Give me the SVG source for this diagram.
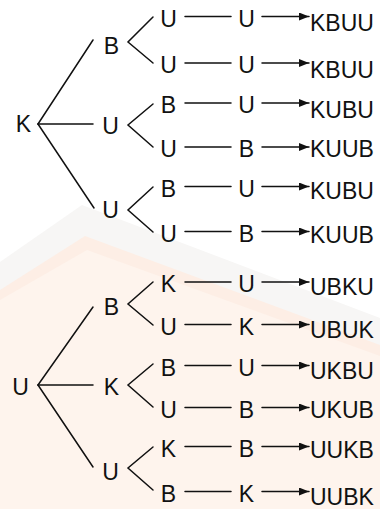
<svg xmlns="http://www.w3.org/2000/svg" width="380" height="509" viewBox="0 0 380 509">
  <defs>
    <style>
      text { font-family: "Liberation Sans", Arial, sans-serif; font-size: 23px; fill: #111; }
      .lbl { text-anchor: middle; }
      .res { text-anchor: start; }
      .ln { stroke: #111; stroke-width: 1.5; fill: none; stroke-linecap: round; }
    </style>
    <marker id="head" viewBox="0 0 10 8" refX="10" refY="4" markerWidth="10" markerHeight="8" markerUnits="userSpaceOnUse" orient="auto">
      <path d="M0,0 L10,4 L0,8 Z" fill="#111"/>
    </marker>
  </defs>

  <rect width="380" height="509" fill="#ffffff"/>

  <!-- faint background emblem -->
  <g id="emblem">
    <path d="M0,262 L82,205 L380,318 L380,509 L0,509 Z" fill="#f7f6f5"/>
    <path d="M0,290 L85,236 L380,345 L380,509 L0,509 Z" fill="#fdeee5"/>
    <path d="M0,300 L87,250 L380,356 L380,509 L0,509 Z" fill="#fef4ed"/>
  </g>

  <!-- connectors -->
  <g id="connectors">
    <!-- first tree -->
    <line class="ln" x1="38" y1="124" x2="93" y2="40"/>
    <line class="ln" x1="38" y1="124" x2="93" y2="124"/>
    <line class="ln" x1="38" y1="124" x2="94" y2="208"/>
    <polyline class="ln" points="153,17 128,42 153,63"/>
    <polyline class="ln" points="153,104 128,125 153,147"/>
    <polyline class="ln" points="153,187 128,210 153,232"/>
    <!-- second tree -->
    <line class="ln" x1="38" y1="385" x2="93" y2="307"/>
    <line class="ln" x1="38" y1="385" x2="93" y2="385"/>
    <line class="ln" x1="38" y1="385" x2="93" y2="467"/>
    <polyline class="ln" points="153,282 128,304 153,325"/>
    <polyline class="ln" points="153,364 128,385 153,407"/>
    <polyline class="ln" points="153,447 128,468 153,490"/>
    <!-- third-level dashes -->
    <line class="ln" x1="185" y1="16.5" x2="231" y2="16.5"/>
    <line class="ln" x1="185" y1="63" x2="231" y2="63"/>
    <line class="ln" x1="185" y1="103" x2="231" y2="103"/>
    <line class="ln" x1="185" y1="147" x2="231" y2="147"/>
    <line class="ln" x1="185" y1="186.5" x2="231" y2="186.5"/>
    <line class="ln" x1="185" y1="231.5" x2="231" y2="231.5"/>
    <line class="ln" x1="185" y1="282" x2="231" y2="282"/>
    <line class="ln" x1="185" y1="324.5" x2="231" y2="324.5"/>
    <line class="ln" x1="185" y1="365.5" x2="231" y2="365.5"/>
    <line class="ln" x1="185" y1="407.5" x2="231" y2="407.5"/>
    <line class="ln" x1="185" y1="446.5" x2="231" y2="446.5"/>
    <line class="ln" x1="185" y1="491.5" x2="231" y2="491.5"/>
    <!-- result arrows -->
    <line class="ln" x1="262" y1="16.5" x2="309" y2="16.5" marker-end="url(#head)"/>
    <line class="ln" x1="262" y1="63" x2="309" y2="63" marker-end="url(#head)"/>
    <line class="ln" x1="262" y1="103" x2="309" y2="103" marker-end="url(#head)"/>
    <line class="ln" x1="262" y1="147" x2="309" y2="147" marker-end="url(#head)"/>
    <line class="ln" x1="262" y1="186.5" x2="309" y2="186.5" marker-end="url(#head)"/>
    <line class="ln" x1="262" y1="231.5" x2="309" y2="231.5" marker-end="url(#head)"/>
    <line class="ln" x1="262" y1="282" x2="309" y2="282" marker-end="url(#head)"/>
    <line class="ln" x1="262" y1="324.5" x2="309" y2="324.5" marker-end="url(#head)"/>
    <line class="ln" x1="262" y1="365.5" x2="309" y2="365.5" marker-end="url(#head)"/>
    <line class="ln" x1="262" y1="407.5" x2="309" y2="407.5" marker-end="url(#head)"/>
    <line class="ln" x1="262" y1="446.5" x2="309" y2="446.5" marker-end="url(#head)"/>
    <line class="ln" x1="262" y1="491.5" x2="309" y2="491.5" marker-end="url(#head)"/>
  </g>

  <!-- first tree nodes -->
  <g id="k0"><text class="lbl" x="23.5" y="132">K</text></g>
  <g id="k-b"><text class="lbl" x="111.5" y="53.5">B</text></g>
  <g id="k-u1"><text class="lbl" x="110.5" y="134">U</text></g>
  <g id="k-u2"><text class="lbl" x="110.5" y="218">U</text></g>

  <g id="k-b-u1"><text class="lbl" x="168.5" y="26.5">U</text></g>
  <g id="k-b-u2"><text class="lbl" x="168.5" y="73">U</text></g>
  <g id="k-u1-b"><text class="lbl" x="168.5" y="113">B</text></g>
  <g id="k-u1-u"><text class="lbl" x="168.5" y="157">U</text></g>
  <g id="k-u2-b"><text class="lbl" x="168.5" y="196.5">B</text></g>
  <g id="k-u2-u"><text class="lbl" x="168.5" y="241.5">U</text></g>

  <g id="k-b-u1-u"><text class="lbl" x="246.5" y="26.5">U</text></g>
  <g id="k-b-u2-u"><text class="lbl" x="246.5" y="73">U</text></g>
  <g id="k-u1-b-u"><text class="lbl" x="246.5" y="113">U</text></g>
  <g id="k-u1-u-b"><text class="lbl" x="246.5" y="157">B</text></g>
  <g id="k-u2-b-u"><text class="lbl" x="246.5" y="196.5">U</text></g>
  <g id="k-u2-u-b"><text class="lbl" x="246.5" y="241.5">B</text></g>

  <g id="r1"><text class="res" x="310" y="31">KBUU</text></g>
  <g id="r2"><text class="res" x="310" y="77.5">KBUU</text></g>
  <g id="r3"><text class="res" x="310" y="117.5">KUBU</text></g>
  <g id="r4"><text class="res" x="310" y="157">KUUB</text></g>
  <g id="r5"><text class="res" x="310" y="199">KUBU</text></g>
  <g id="r6"><text class="res" x="310" y="242.5">KUUB</text></g>

  <!-- second tree nodes -->
  <g id="u0"><text class="lbl" x="20.5" y="395">U</text></g>
  <g id="u-b"><text class="lbl" x="111.5" y="315">B</text></g>
  <g id="u-k"><text class="lbl" x="111.5" y="395">K</text></g>
  <g id="u-u"><text class="lbl" x="110.5" y="479.5">U</text></g>

  <g id="u-b-k"><text class="lbl" x="168.5" y="292">K</text></g>
  <g id="u-b-u"><text class="lbl" x="168.5" y="334.5">U</text></g>
  <g id="u-k-b"><text class="lbl" x="168.5" y="375.5">B</text></g>
  <g id="u-k-u"><text class="lbl" x="168.5" y="417.5">U</text></g>
  <g id="u-u-k"><text class="lbl" x="168.5" y="456.5">K</text></g>
  <g id="u-u-b"><text class="lbl" x="168.5" y="501.5">B</text></g>

  <g id="u-b-k-u"><text class="lbl" x="246.5" y="292">U</text></g>
  <g id="u-b-u-k"><text class="lbl" x="246.5" y="334.5">K</text></g>
  <g id="u-k-b-u"><text class="lbl" x="246.5" y="375.5">U</text></g>
  <g id="u-k-u-b"><text class="lbl" x="246.5" y="417.5">B</text></g>
  <g id="u-u-k-b"><text class="lbl" x="246.5" y="456.5">B</text></g>
  <g id="u-u-b-k"><text class="lbl" x="246.5" y="501.5">K</text></g>

  <g id="r7"><text class="res" x="310" y="295">UBKU</text></g>
  <g id="r8"><text class="res" x="310" y="337.5">UBUK</text></g>
  <g id="r9"><text class="res" x="310" y="378.5">UKBU</text></g>
  <g id="r10"><text class="res" x="310" y="417.5">UKUB</text></g>
  <g id="r11"><text class="res" x="310" y="458">UUKB</text></g>
  <g id="r12"><text class="res" x="310" y="504.5">UUBK</text></g>
</svg>
